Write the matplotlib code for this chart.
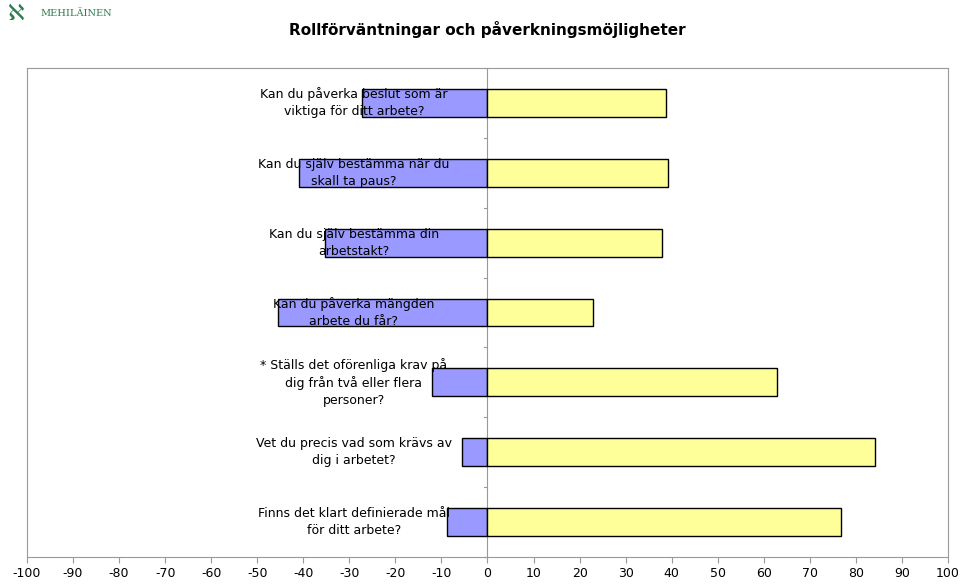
import matplotlib
matplotlib.use("Agg")
import matplotlib.pyplot as plt
import numpy as np

questions = [
    "Kan du påverka beslut som är\nviktiga för ditt arbete?",
    "Kan du själv bestämma när du\nskall ta paus?",
    "Kan du själv bestämma din\narbetstakt?",
    "Kan du påverka mängden\narbete du får?",
    "* Ställs det oförenliga krav på\ndig från två eller flera\npersoner?",
    "Vet du precis vad som krävs av\ndig i arbetet?",
    "Finns det klart definierade mål\nför ditt arbete?",
]
negative = [-27.2, -41.0, -35.2, -45.6, -12.0, -5.5, -8.9]
positive = [38.7, 39.3, 38.0, 23.0, 62.8, 84.2, 76.8]
xticks = list(range(-100, 101, 10))

fig = plt.figure(figsize=(9.6, 5.84), dpi=100)
ax = fig.add_axes([27/960, 1-557/584, 921/960, 489/584])
y = np.arange(len(questions))
ax.barh(y, negative, height=0.4, color="#9999FF", edgecolor="black", linewidth=1, zorder=2)
ax.barh(y, positive, height=0.4, color="#FFFF99", edgecolor="black", linewidth=1, zorder=2)
ax.set_xlim(-100, 100)
ax.set_ylim(len(questions) - 0.5, -0.5)
ax.set_xticks(xticks)
ax.set_xticklabels([str(t) for t in xticks], fontsize=9)
ax.set_yticks([])
for sp in ax.spines.values():
    sp.set_color("#999999")
ax.axvline(0, color="#999999", lw=0.8, zorder=1)
for b in np.arange(-0.5, len(questions), 1):
    ax.plot([-0.8, 0], [b, b], color="#999999", lw=0.8, zorder=1, clip_on=False)
for i, q in enumerate(questions):
    ax.text(-29, i, q, ha="center", va="center", fontsize=9, linespacing=1.4, zorder=3)
ax.tick_params(axis="x", length=4, color="#999999")

fig.text(487/960, 1-29/584, "Rollförväntningar och påverkningsmöjligheter",
         ha="center", va="center", fontsize=11, fontweight="bold")
fig.text(8/960, 1-14/584, "ℵ", color="#2e7d4f", fontsize=16, ha="left", va="center")
fig.text(40/960, 1-14/584, "MEHILÄINEN", color="#2e7d4f", fontsize=7, ha="left", va="center",
         family="DejaVu Serif")
fig.savefig("out.png", dpi=100)
